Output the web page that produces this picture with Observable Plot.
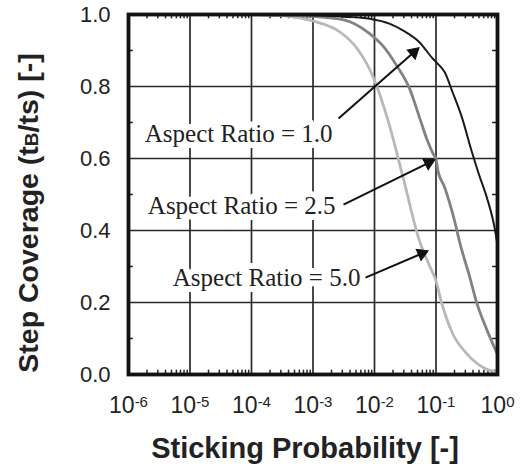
<!DOCTYPE html>
<html><head><meta charset="utf-8">
<script src="https://cdn.jsdelivr.net/npm/d3@7"></script>
<script src="https://cdn.jsdelivr.net/npm/@observablehq/plot@0.6"></script>
<style>body{margin:0;background:#fff}</style>
</head><body><div id="chart"></div>
<script>
// Sticking probability exponents (log10) and step coverage values
const ar1Exp = [-6, -3.5, -3, -2.5, -2.08, -1.75, -1.54, -1.27, -1.05, -0.97, -0.86, -0.73, -0.58, -0.42, -0.3, -0.17, -0.05, 0];
const ar1Cov = [1.0, 1.0, 0.998, 0.994, 0.988, 0.974, 0.956, 0.923, 0.877, 0.863, 0.84, 0.784, 0.715, 0.62, 0.555, 0.49, 0.41, 0.36];

const ar25Exp = [-6, -4, -3.5, -3, -2.5, -2.08, -1.87, -1.64, -1.43, -1.27, -1.14, -1.05, -1.0, -0.97, -0.86, -0.7, -0.61, -0.45, -0.35, -0.19, -0.03, 0];
const ar25Cov = [1.0, 1.0, 0.998, 0.995, 0.985, 0.947, 0.914, 0.858, 0.794, 0.715, 0.65, 0.614, 0.598, 0.567, 0.52, 0.428, 0.364, 0.27, 0.206, 0.131, 0.067, 0.055];

const ar5Exp = [-6, -4, -3.5, -3.2, -3.0, -2.55, -2.28, -2.03, -1.78, -1.53, -1.27, -1.1, -1.0, -0.91, -0.73, -0.5, -0.24, 0];
const ar5Cov = [1.0, 1.0, 0.997, 0.99, 0.982, 0.95, 0.905, 0.83, 0.706, 0.544, 0.372, 0.30, 0.26, 0.2, 0.114, 0.058, 0.02, 0.005];

// Axis ticks
const xTickVals = [1e-6, 1e-5, 1e-4, 1e-3, 1e-2, 1e-1, 1];
const yTickVals = [0, 0.2, 0.4, 0.6, 0.8, 1.0];
const yMinor = [0.1, 0.3, 0.5, 0.7, 0.9];
const xMinorMult = [2, 3, 4, 5, 6, 7, 8, 9];

// Annotations
const annLabels = ["Aspect Ratio = 1.0", "Aspect Ratio = 2.5", "Aspect Ratio = 5.0"];
const annTextExp = [-2.683, -2.634, -2.228];
const annTextY = [0.669, 0.469, 0.267];
const arrowFromExp = [-2.585, -2.504, -2.146];
const arrowFromY = [0.711, 0.472, 0.269];
const arrowToExp = [-1.36, -1.12, -1.23];
const arrowToY = [0.895, 0.588, 0.336];

const W = 521, H = 466, ML = 128, MR = 24, MT = 14, MB = 92;

const toRows = (ex, cov) => ex.map((e, i) => ({p: Math.pow(10, e), c: cov[i]}));
const s1 = toRows(ar1Exp, ar1Cov);
const s25 = toRows(ar25Exp, ar25Cov);
const s5 = toRows(ar5Exp, ar5Cov);

const minorX = [];
for (let k = -6; k < 0; k++) for (const m of xMinorMult) minorX.push(m * Math.pow(10, k));

// pixel helpers only to orient arrowheads
const px = d3.scaleLog().domain([1e-6, 1]).range([ML, W - MR]);
const py = d3.scaleLinear().domain([0, 1]).range([H - MB, MT]);

const ann = annLabels.map((t, i) => {
  const x1 = Math.pow(10, arrowFromExp[i]), y1 = arrowFromY[i];
  const x2 = Math.pow(10, arrowToExp[i]), y2 = arrowToY[i];
  const ang = Math.atan2(px(x2) - px(x1), -(py(y2) - py(y1))) * 180 / Math.PI;
  return {t, tx: Math.pow(10, annTextExp[i]), ty: annTextY[i], x1, y1, x2, y2, ang};
});

const chart = Plot.plot({
  width: W, height: H,
  marginLeft: ML, marginRight: MR, marginTop: MT, marginBottom: MB,
  style: {fontFamily: "'Liberation Sans', Arial, sans-serif", fontSize: "22px", background: "white", color: "#222"},
  x: {type: "log", domain: [1e-6, 1]},
  y: {domain: [0, 1]},
  marks: [
    Plot.gridX(xTickVals.slice(1, -1), {stroke: "#2a2a2a", strokeOpacity: 1, strokeWidth: 1.7}),
    Plot.gridY(yTickVals.slice(1, -1), {stroke: "#2a2a2a", strokeOpacity: 1, strokeWidth: 1.7}),
    Plot.ruleX(minorX, {y1: 0, y2: 0.012, stroke: "#222", strokeWidth: 1.5}),
    Plot.ruleX(minorX, {y1: 1, y2: 0.988, stroke: "#222", strokeWidth: 1.5}),
    Plot.ruleY(yMinor, {x1: 1e-6, x2: 1.2e-6, stroke: "#222", strokeWidth: 1.5}),
    Plot.ruleY(yMinor, {x1: 1, x2: 0.83, stroke: "#222", strokeWidth: 1.5}),
    Plot.text(ann, {x: "tx", y: "ty", text: "t", textAnchor: "end", fontFamily: "'Liberation Serif', 'Times New Roman', serif", fontSize: 25, fill: "#222", stroke: "white", strokeWidth: 12, paintOrder: "stroke"}),
    Plot.line(s5, {x: "p", y: "c", stroke: "#b8b8b8", strokeWidth: 2.8, curve: "monotone-x"}),
    Plot.line(s25, {x: "p", y: "c", stroke: "#828282", strokeWidth: 2.8, curve: "monotone-x"}),
    Plot.line(s1, {x: "p", y: "c", stroke: "#1a1a1a", strokeWidth: 2, curve: "monotone-x"}),
    Plot.link(ann, {x1: "x1", y1: "y1", x2: "x2", y2: "y2", stroke: "#111", strokeWidth: 2}),
    Plot.dot(ann, {x: "x2", y: "y2", symbol: "triangle", rotate: "ang", r: 4.5, fill: "#111", stroke: "#111", strokeWidth: 1}),
    Plot.frame({stroke: "#111", strokeWidth: 3.8}),
    Plot.axisX(xTickVals, {tickSize: 0, tickPadding: 22, tickFormat: d => String(Math.round(Math.log10(d))), label: null, fontSize: 23}),
    Plot.axisY(yTickVals, {tickSize: 0, tickPadding: 18, tickFormat: d3.format(".1f"), label: null, fontSize: 22})
  ]
});

const svg = d3.select(chart);
svg.selectAll('g[aria-label="x-axis tick label"] text').each(function () {
  const e = this.textContent;
  const t = d3.select(this);
  t.text(null);
  t.append("tspan").text("10");
  t.append("tspan").attr("dy", "-6").attr("font-size", "15px").text(e);
});

// axis titles
svg.append("text")
  .attr("x", 305).attr("y", 458)
  .attr("text-anchor", "middle")
  .attr("font-weight", "bold").attr("font-size", "29px").attr("fill", "#222")
  .text("Sticking Probability [-]");

const yt = svg.append("text")
  .attr("transform", "translate(38,213) rotate(-90)")
  .attr("text-anchor", "middle")
  .attr("font-weight", "bold").attr("font-size", "28.5px").attr("fill", "#222");
yt.append("tspan").text("Step Coverage (t");
yt.append("tspan").attr("font-size", "19px").text("B");
yt.append("tspan").text("/ts) [-]");

document.getElementById("chart").append(chart);
</script>
</body></html>
